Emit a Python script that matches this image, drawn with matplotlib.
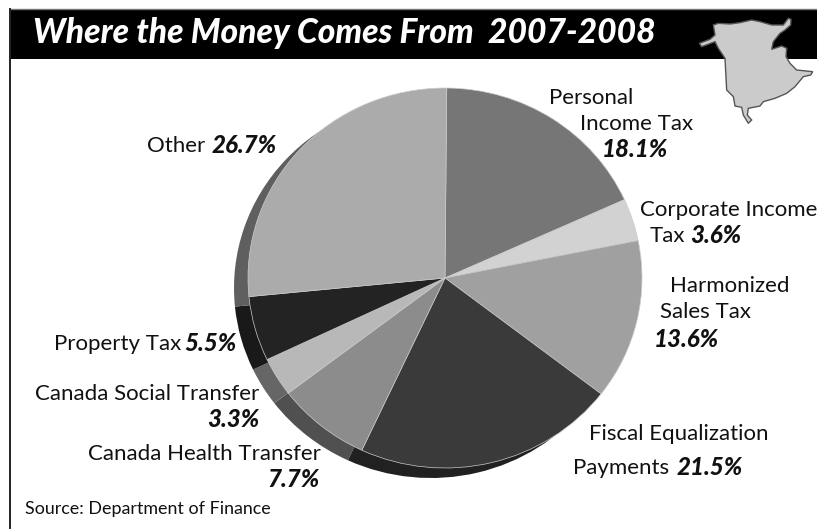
import matplotlib
matplotlib.use("Agg")
import matplotlib.pyplot as plt
from matplotlib.patches import Rectangle, Polygon

W, H = 817, 529
FONT = "Lato"

categories = ["Personal Income Tax", "Corporate Income Tax", "Harmonized Sales Tax",
              "Fiscal Equalization Payments", "Canada Health Transfer",
              "Canada Social Transfer", "Property Tax", "Other"]
values = [18.1, 3.6, 13.6, 21.5, 7.7, 3.3, 5.5, 26.7]
colors = ["#767676", "#d2d2d2", "#a0a0a0", "#3a3a3a", "#8c8c8c", "#b8b8b8", "#232323", "#ababab"]
shadow_colors = ["#5a5a5a", "#777777", "#666666", "#212121", "#505050", "#666666", "#191919", "#5f5f5f"]
title = "Where the Money Comes From  2007-2008"
source = "Source: Department of Finance"

map_zoom = [(118,130),(150,118),(165,105),(160,75),(175,70),(210,72),(240,68),(275,60),(300,65),(335,75),
            (370,75),(385,55),(393,58),(392,75),(375,90),(360,100),(340,125),(335,148),(365,138),(380,145),
            (378,170),(390,190),(410,210),(458,215),(452,225),(430,230),(405,260),(380,280),(345,295),(310,305),
            (300,318),(265,325),(262,345),(275,360),(265,370),(250,345),(245,322),(225,318),(220,290),(200,270),
            (195,175),(175,145),(165,125),(125,140)]

fig = plt.figure(figsize=(W/100, H/100), dpi=100, facecolor="white")
bg = fig.add_axes([0, 0, 1, 1]); bg.set_xlim(0, W); bg.set_ylim(H, 0); bg.axis("off")
bg.add_patch(Rectangle((10, 9), W-10, 50, fc="black", ec="none"))
bg.plot([10, W], [8.5, 8.5], color="#777777", lw=1)
bg.plot([10.5, 10.5], [9, H], color="#222222", lw=1.4)

cx, cy, rx, ry = 445, 278, 197, 190
pa = fig.add_axes([(cx-rx)/W, 1-(cy+ry)/H, 2*rx/W, 2*ry/H])
pa.pie(values, colors=shadow_colors, startangle=89.5, counterclock=False, radius=1,
       center=(-14/rx, -10/ry), wedgeprops=dict(linewidth=0))
pa.pie(values, colors=colors, startangle=89.5, counterclock=False, radius=1,
       center=(0, 0), wedgeprops=dict(linewidth=0.5, edgecolor="#cccccc"))
pa.set_aspect("auto"); pa.set_xlim(-1, 1); pa.set_ylim(-1, 1); pa.axis("off")
for p in pa.patches:
    p.set_clip_on(False)

top = fig.add_axes([0, 0, 1, 1]); top.set_xlim(0, W); top.set_ylim(H, 0); top.axis("off"); top.patch.set_alpha(0)
top.add_patch(Polygon([(660+x/3, y/3) for x, y in map_zoom], closed=True, fc="#cbcbcb", ec="#555555", lw=1))
top.text(33, 33, title, color="white", fontsize=24.2, fontweight=900, fontstyle="italic",
         family=FONT, va="center", ha="left")

def t(x, y, s, bold=False, ha="left"):
    top.text(x, y + 1.5, s, fontsize=16 if not bold else 17.4, color="#111111", family=FONT, ha=ha, va="center",
             fontweight=900 if bold else "normal", fontstyle="italic" if bold else "normal", clip_on=True)

t(549, 96, "Personal"); t(580, 122, "Income Tax"); t(668, 148, "18.1%", True, "right")
t(640, 208, "Corporate Income"); t(650, 234, "Tax"); t(741, 234, "3.6%", True, "right")
t(670, 284, "Harmonized"); t(660, 311, "Sales Tax"); t(719, 338, "13.6%", True, "right")
t(589, 432, "Fiscal Equalization"); t(573, 466, "Payments"); t(743, 466, "21.5%", True, "right")
t(147, 144, "Other"); t(277, 144, "26.7%", True, "right")
t(54, 342, "Property Tax"); t(237, 342, "5.5%", True, "right")
t(35, 392, "Canada Social Transfer"); t(259, 418, "3.3%", True, "right")
t(88, 452, "Canada Health Transfer"); t(320, 478, "7.7%", True, "right")
top.text(25, 509, source, fontsize=12.9, color="#111111", family=FONT, va="center")

fig.savefig("out.png", dpi=100, facecolor="white")
